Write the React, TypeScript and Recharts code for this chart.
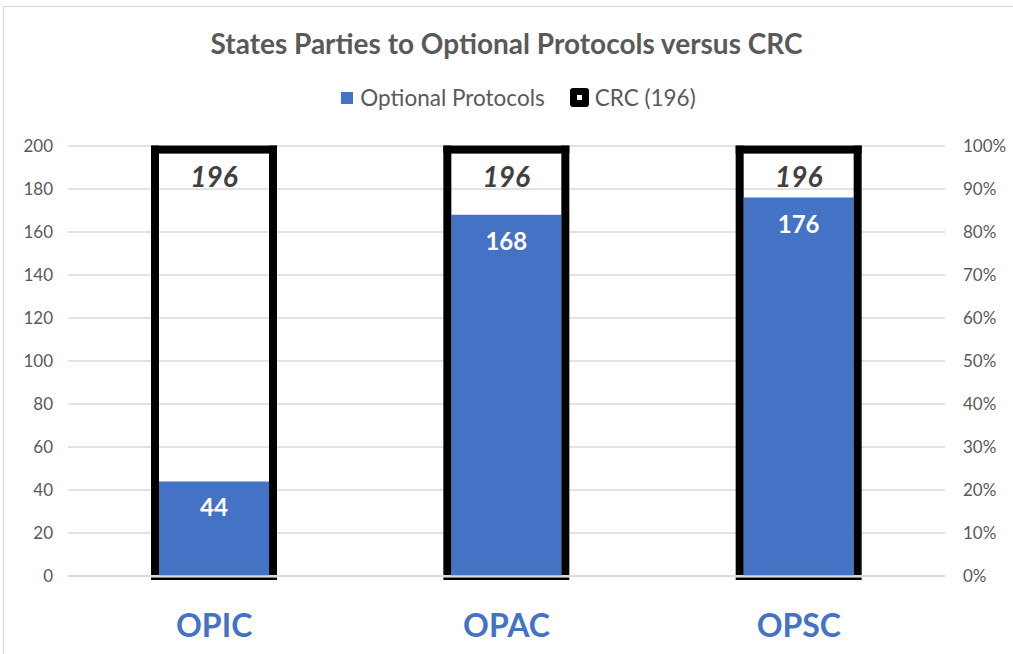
import React from "react";
import {
    BarChart,
    Bar,
    XAxis,
    YAxis,
    CartesianGrid,
    LabelList
} from "recharts";

const categories = ["OPIC", "OPAC", "OPSC"];
const optionalProtocols = [44, 168, 176];
const crcParties = [196, 196, 196];
const leftTicks = [0, 20, 40, 60, 80, 100, 120, 140, 160, 180, 200];
const rightTicks = [0, 0.1, 0.2, 0.3, 0.4, 0.5, 0.6, 0.7, 0.8, 0.9, 1];

const seriesNames = ["Optional Protocols", "CRC (196)"];
const title = "States Parties to Optional Protocols versus CRC";

const data = categories.map((name, i) => ({
    name,
    op: optionalProtocols[i],
    crc: crcParties[i]
}));

const FONT = "Lato, 'Open Sans', sans-serif";
const BLUE = "#4472C4";
const GRAY = "#595959";
const BAR_W = 110;

// thick black frame drawn around the blue bar, open inside so gridlines show
function CrcFrame(props: any) {
    const { x, y, width, height } = props;
    const t = 8;
    const top = y - 9;
    const bottom = y + height;
    return (
        <g>
            <rect x={x - t} y={top} width={width + 2 * t} height={t} fill="#000" />
            <rect x={x - t} y={top} width={t} height={bottom - top - 1} fill="#000" />
            <rect x={x + width} y={top} width={t} height={bottom - top - 1} fill="#000" />
            <rect x={x - t} y={bottom + 1.5} width={width + 2 * t} height={2.5} fill="#000" />
        </g>
    );
}

function Legend() {
    return (
        <div
            style={{
                position: "absolute",
                top: 84,
                left: 0,
                width: 1013,
                display: "flex",
                justifyContent: "center",
                alignItems: "center",
                fontFamily: FONT,
                fontSize: 22.5,
                color: GRAY
            }}
        >
            <div style={{ display: "flex", alignItems: "center", marginRight: 25, marginLeft: 24 }}>
                <div style={{ width: 12, height: 12, background: BLUE, marginRight: 7 }} />
                {seriesNames[0]}
            </div>
            <div style={{ display: "flex", alignItems: "center" }}>
                <div
                    style={{
                        width: 19,
                        height: 19,
                        background: "#000",
                        borderRadius: 3,
                        marginRight: 6,
                        display: "flex",
                        alignItems: "center",
                        justifyContent: "center"
                    }}
                >
                    <div style={{ width: 5, height: 5, background: "#fff" }} />
                </div>
                {seriesNames[1]}
            </div>
        </div>
    );
}

export default function App() {
    return (
        <div
            style={{
                position: "absolute",
                left: 0,
                top: 0,
                width: 1013,
                height: 654,
                overflow: "hidden",
                background: "#fff",
                fontFamily: FONT
            }}
        >
            <div
                style={{
                    position: "absolute",
                    left: 3,
                    top: 6,
                    width: 1030,
                    height: 670,
                    border: "1.5px solid #d9d9d9"
                }}
            />

            <div
                style={{
                    position: "absolute",
                    top: 26,
                    left: 0,
                    width: 1013,
                    textAlign: "center",
                    fontSize: 28,
                    fontWeight: 700,
                    color: GRAY
                }}
            >
                {title}
            </div>

            <Legend />

            <div style={{ position: "absolute", left: 0, top: 0 }}>
                <BarChart
                    width={1013}
                    height={654}
                    data={data}
                    margin={{ top: 146, right: 0, bottom: 0, left: 0 }}
                    barSize={BAR_W}
                    barGap={-BAR_W}
                >
                    <CartesianGrid vertical={false} stroke="#d9d9d9" strokeWidth={1.5} yAxisId="left" />

                    <XAxis
                        dataKey="name"
                        height={78}
                        axisLine={{ stroke: "#d9d9d9", strokeWidth: 1.5 }}
                        tickLine={false}
                        tickSize={0}
                        tickMargin={38}
                        tick={{ fill: BLUE, fontSize: 32, fontWeight: 700, fontFamily: FONT }}
                    />

                    <YAxis
                        yAxisId="left"
                        orientation="left"
                        width={68}
                        domain={[0, 200]}
                        ticks={leftTicks}
                        axisLine={false}
                        tickLine={false}
                        tickSize={0}
                        tickMargin={15}
                        tick={{ fill: GRAY, fontSize: 17, fontFamily: FONT }}
                    />

                    <YAxis
                        yAxisId="right"
                        orientation="right"
                        width={68}
                        domain={[0, 1]}
                        ticks={rightTicks}
                        allowDataOverflow
                        axisLine={false}
                        tickLine={false}
                        tickSize={0}
                        tickMargin={18}
                        tickFormatter={(v: number) => `${Math.round(v * 100)}%`}
                        tick={{ fill: GRAY, fontSize: 17, fontFamily: FONT }}
                    />

                    <Bar
                        yAxisId="left"
                        dataKey="op"
                        name={seriesNames[0]}
                        fill={BLUE}
                        barSize={BAR_W}
                        isAnimationActive={false}
                    >
                        <LabelList
                            dataKey="op"
                            position="insideTop"
                            offset={18}
                            fill="#fff"
                            fontSize={24}
                            fontWeight={700}
                            fontFamily={FONT}
                        />
                    </Bar>

                    <Bar
                        yAxisId="left"
                        dataKey="crc"
                        name={seriesNames[1]}
                        fill="none"
                        barSize={BAR_W}
                        shape={<CrcFrame />}
                        isAnimationActive={false}
                    >
                        <LabelList
                            dataKey="crc"
                            position="insideTop"
                            offset={13}
                            fill="#404040"
                            fontSize={28}
                            fontWeight={700}
                            fontStyle="italic"
                            fontFamily={FONT}
                        />
                    </Bar>
                </BarChart>
            </div>
        </div>
    );
}
